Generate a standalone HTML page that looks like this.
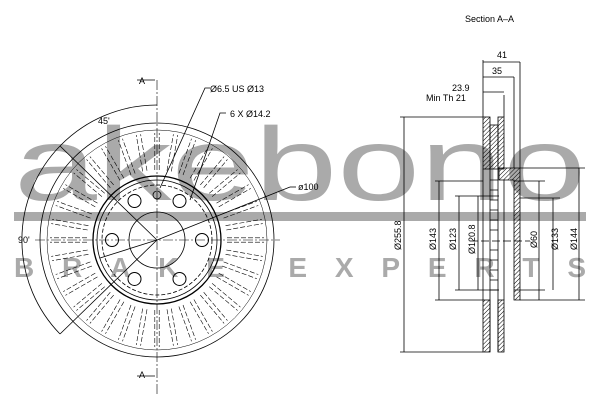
<!DOCTYPE html>
<html><head><meta charset="utf-8"><style>
html,body{margin:0;padding:0;background:#fff;width:600px;height:400px;overflow:hidden}
svg{display:block}
text{font-family:"Liberation Sans",sans-serif;fill:#000}
</style></head><body>
<svg id="s" width="600" height="400" viewBox="0 0 600 400" xmlns="http://www.w3.org/2000/svg">
<defs>
<pattern id="h" width="3" height="3" patternUnits="userSpaceOnUse" patternTransform="rotate(45)"><line x1="0" y1="0" x2="0" y2="3" stroke="#000" stroke-width="1"/></pattern>
</defs>
<!-- logo -->
<g fill="#aaaaaa">
<text x="300" y="200" font-size="104" text-anchor="middle" textLength="572" lengthAdjust="spacingAndGlyphs" style="fill:#aaaaaa">akebono</text>
<rect x="14" y="212" width="572" height="9"/>
<text x="300" y="277" font-size="28" text-anchor="middle" textLength="572" lengthAdjust="spacing" style="fill:#aaaaaa;font-weight:bold">BRAKE EXPERTS</text>
</g>
<g id="d" fill="none" stroke="#000" stroke-width="0.8">
<circle cx="157" cy="240" r="117"/>
<circle cx="157" cy="240" r="110" stroke-width="0.5"/>
<circle cx="157" cy="240" r="64" stroke-width="1.3"/>
<circle cx="157" cy="240" r="60"/>
<circle cx="157" cy="240" r="55" stroke-dasharray="4 2"/>
<circle cx="157" cy="240" r="28"/>
<line x1="157" y1="80" x2="157" y2="395" stroke-dasharray="10 2 2 2" stroke-width="0.6"/>
<line x1="35" y1="240" x2="280" y2="240" stroke-dasharray="10 2 2 2" stroke-width="0.6"/>
<path d="M60 146 A135 135 0 0 1 157 105"/>
<path d="M60 146 A135 135 0 0 0 60 334"/>
<line x1="60" y1="146" x2="157" y2="240"/>
<line x1="60" y1="334" x2="157" y2="240"/>
<line x1="157" y1="240" x2="290" y2="187"/>
<line x1="100" y1="258" x2="157" y2="240"/>
<line x1="290" y1="187" x2="296" y2="187"/>
<path d="M160 188 L205 88 L210 88"/>
<path d="M190 200 L220 113 L226 113"/>
<path d="M137 80 L155 80 M137 376 L155 376"/>
</g>
<g id="sec" fill="none" stroke="#000" stroke-width="0.8">
<rect x="483" y="117" width="7" height="52" fill="url(#h)"/>
<rect x="498" y="117" width="6" height="52" fill="url(#h)"/>
<rect x="490" y="125" width="8" height="44" fill="url(#h)"/>
<rect x="483" y="300" width="7" height="52" fill="url(#h)"/>
<rect x="498" y="300" width="6" height="52" fill="url(#h)"/>
<line x1="483" y1="169" x2="483" y2="300"/><line x1="504" y1="180" x2="504" y2="300"/>
<path d="M490 169 V352 M498 169 V352"/>
<path d="M490 180 H498 M490 190 H498 M490 200 H498 M490 210 H498 M490 220 H498 M490 230 H498 M490 250 H498 M490 260 H498 M490 270 H498 M490 280 H498 M490 290 H498"/>
<path d="M499 168 H520 V300 H514 V180 H499 Z" fill="url(#h)"/>
<path d="M483 60 V117 M520 62 V168 M514 77 V168 M504 95 V117"/>
<path d="M483 62 H520 M483 77 H514 M483 92 H504"/>
<path d="M400 117 H483 M400 352 H483 M435 181 H483 M435 300 H483 M455 196 H499 M455 290 H499"/>
<path d="M404 117 V352 M439 181 V300 M459 196 V290 M478 196 V290 M553 198 V290 M539 181 V300 M579 168 V300"/>
<path d="M520 168 H585 M520 300 H585 M514 181 H545 M514 290 H545 M520 198 H560"/>
<line x1="470" y1="241" x2="530" y2="241" stroke-dasharray="8 3"/>
</g>
<g font-size="9">
<text x="465" y="22">Section  A–A</text>
<text x="497" y="58">41</text>
<text x="492" y="74">35</text>
<text x="452" y="91">23.9</text>
<text x="426" y="101">Min  Th  21</text>
<text x="210" y="92">Ø6.5  US  Ø13</text>
<text x="230" y="117">6  X  Ø14.2</text>
<text x="298" y="190">ø100</text>
<text x="98" y="124">45'</text>
<text x="18" y="243">90'</text>
<text x="139" y="84">A</text>
<text x="139" y="378">A</text>
<g transform="rotate(-90)">
<text x="-250" y="401">Ø255.8</text>
<text x="-250" y="436">Ø143</text>
<text x="-250" y="456">Ø123</text>
<text x="-254" y="475">Ø120.8</text>
<text x="-248" y="537">Ø60</text>
<text x="-250" y="558">Ø133</text>
<text x="-250" y="577">Ø144</text>
</g>
</g>
<script>
var g=document.getElementById('d'),ns='http://www.w3.org/2000/svg';
function el(t,a){var e=document.createElementNS(ns,t);for(var k in a)e.setAttribute(k,a[k]);g.appendChild(e);}
for(var i=0;i<36;i++){var a=i*10*Math.PI/180;
for(var s=-1;s<=1;s+=2){var c=Math.cos(a),n=Math.sin(a),px=-n*2.2*s,py=c*2.2*s;
el('line',{x1:157+c*70+px,y1:240+n*70+py,x2:157+c*107+px,y2:240+n*107+py,'stroke-dasharray':'5 2','stroke-width':0.6});}}
for(var i=0;i<6;i++){var a=i*60*Math.PI/180;el('circle',{cx:157+Math.cos(a)*45,cy:240+Math.sin(a)*45,r:6.5,'stroke-width':1});}
el('circle',{cx:157,cy:195,r:4});
</script>
</svg>
</body></html>
